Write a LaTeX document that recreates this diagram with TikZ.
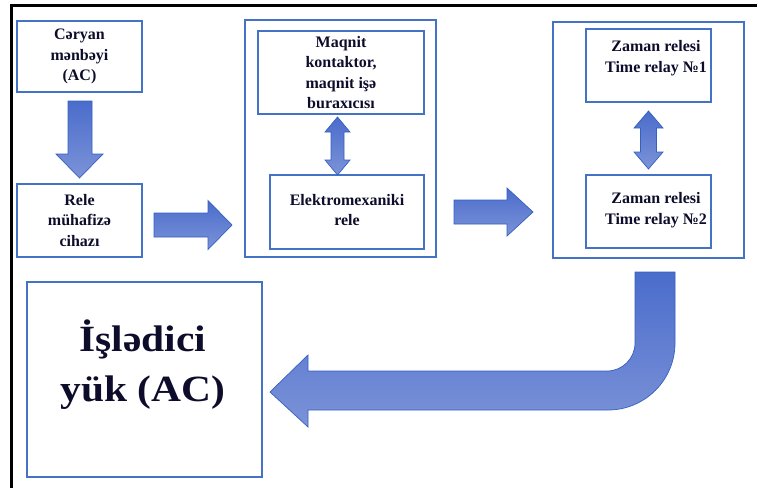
\documentclass[tikz,border=0pt]{standalone}
\usepackage{fontspec}
\setmainfont{Liberation Serif}
\newfontfamily\bigfont[FakeStretch=1.12]{Liberation Serif}
\definecolor{boxblue}{HTML}{4472C4}
\definecolor{ink}{HTML}{0D0D2B}
\definecolor{arrtop}{HTML}{4A6CCB}
\definecolor{arrbot}{HTML}{7C93D8}
\definecolor{arredge}{HTML}{3460C2}
\begin{document}
\begin{tikzpicture}[x=1pt,y=-1pt,
  box/.style={draw=boxblue, line width=1.1pt, rectangle, inner sep=0pt, align=center,
    font=\bfseries\fontsize{16}{20.5}\selectfont, text=ink},
  txt/.style={inner sep=0pt, align=center, font=\bfseries\fontsize{16}{20.5}\selectfont, text=ink},
  bigtxt/.style={inner sep=0pt, align=center, font=\bigfont\bfseries\fontsize{37}{50}\selectfont, text=ink},
  blockarrow/.style={draw=arredge, line width=0.7pt, top color=arrtop, bottom color=arrbot},
  frame/.style={draw=black, line width=3pt}]
\useasboundingbox (0,0) rectangle (757,488);
% outer frame (top and left edges only)
\draw[frame] (11,488) -- (11,5.5) -- (757,5.5);
% boxes
\node[box, minimum width=125pt, minimum height=71pt] (b1) at (79.5,56.5) {Cəryan\\mənbəyi\\(AC)};
\node[box, minimum width=125pt, minimum height=73pt] (b2) at (79.5,220.5) {Rele\\mühafizə\\cihazı};
\node[box, minimum width=191pt, minimum height=237pt] (g1) at (340.5,138.5) {};
\node[box, minimum width=166pt, minimum height=83pt] (m1) at (341,72.5) {Maqnit\\kontaktor,\\maqnit işə\\buraxıcısı};
\node[box, minimum width=154pt, minimum height=74pt] (m2) at (347,212) {};
\node[txt] (m2t) at (347,210) {Elektromexaniki\\rele};
\node[box, minimum width=191pt, minimum height=236pt] (g2) at (648.5,140) {};
\node[box, minimum width=125pt, minimum height=73pt] (t1) at (648.5,65.5) {};
\node[txt] (t1t) at (656,58) {Zaman relesi\\Time relay №1};
\node[box, minimum width=125pt, minimum height=73pt] (t2) at (648.5,211.5) {};
\node[txt] (t2t) at (656,210) {Zaman relesi\\Time relay №2};
\node[box, minimum width=235pt, minimum height=195pt] (load) at (144.5,379.5) {};
\node[bigtxt] (loadt) at (143,365) {İşlədici\\yük (AC)};
% block arrows
\draw[blockarrow] (68,101) -- (92,101) -- (92,154) -- (103,154) -- (79.5,178) -- (56,154) -- (68,154) -- cycle;
\draw[blockarrow] (154,213) -- (208,213) -- (208,200.5) -- (232,225) -- (208,249.5) -- (208,237) -- (154,237) -- cycle;
\draw[blockarrow] (454,200) -- (507,200) -- (507,188) -- (533,212) -- (507,236) -- (507,224) -- (454,224) -- cycle;
\draw[blockarrow] (337.5,117) -- (350,132) -- (344,132) -- (344,160) -- (350,160) -- (337.5,175)
  -- (325,160) -- (331,160) -- (331,132) -- (325,132) -- cycle;
\draw[blockarrow] (648.5,111) -- (663,128) -- (656.5,128) -- (656.5,152) -- (663,152) -- (648.5,169)
  -- (634,152) -- (640.5,152) -- (640.5,128) -- (634,128) -- cycle;
\draw[blockarrow] (270,392) -- (308,355) -- (308,371) -- (607,371)
  .. controls (622.5,371) and (635,358.5) .. (635,343) -- (635,272) -- (675,272) -- (675,343)
  .. controls (675,380) and (645,410) .. (608,410) -- (308,410) -- (308,427) -- cycle;
\end{tikzpicture}
\end{document}
